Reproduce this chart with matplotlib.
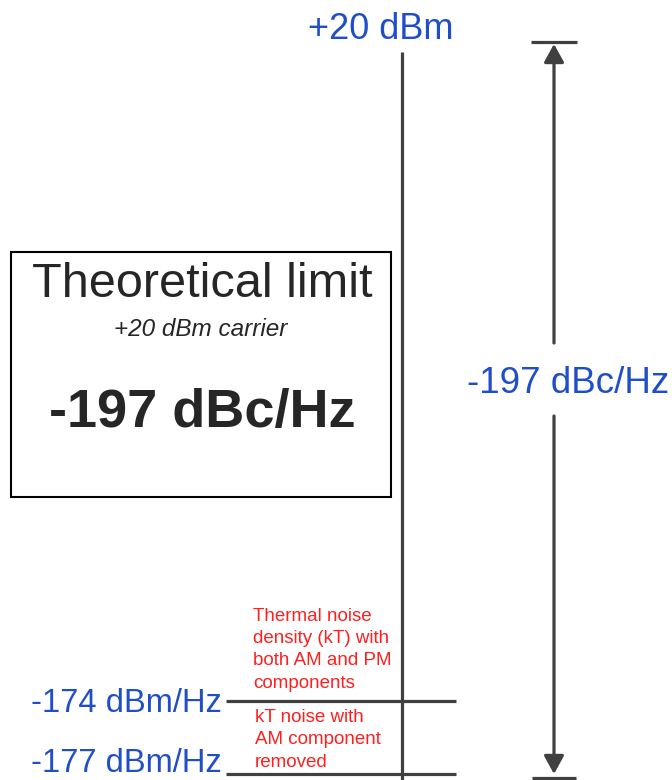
import matplotlib
matplotlib.use("Agg")
import matplotlib.pyplot as plt
from matplotlib.patches import Rectangle, FancyArrowPatch

# ---- data ----
level_labels = ["+20 dBm", "-174 dBm/Hz", "-177 dBm/Hz"]
level_values = [20, -174, -177]
span_label = "-197 dBc/Hz"
box_title = "Theoretical limit"
box_sub = "+20 dBm carrier"
box_value = "-197 dBc/Hz"
note_upper = ["Thermal noise", "density (kT) with", "both AM and PM", "components"]
note_lower = ["kT noise with", "AM component", "removed"]

# ---- style ----
BLUE = "#1f4ec8"
RED = "#ff1f1f"
GRAY = "#404040"
DARK = "#262626"
FONT = ["Liberation Sans", "DejaVu Sans"]

# schematic vertical layout (pixels) for each level
ypos = {20: 52, -174: 701, -177: 774}
label_anchor = {-174: (712, "baseline"), -177: (779, "bottom")}

fig = plt.figure(figsize=(6.72, 7.80), dpi=100)
ax = fig.add_axes([0, 0, 1, 1])
ax.set_xlim(0, 672)
ax.set_ylim(780, 0)
ax.axis("off")

# main vertical axis
ax.plot([402, 402], [ypos[20], 782], color=GRAY, lw=2.3, solid_capstyle="butt")

# level lines and labels
ax.text(381, 39, level_labels[0], color=BLUE, fontsize=26, family=FONT,
        ha="center", va="baseline")
for lab, val in zip(level_labels[1:], level_values[1:]):
    y = ypos[val]
    ax.plot([226, 456], [y, y], color=GRAY, lw=2.3, solid_capstyle="butt")
    ty, tva = label_anchor[val]
    ax.text(222, ty, lab, color=BLUE, fontsize=23.5, family=FONT,
            ha="right", va=tva)

# span arrow (+20 dBm down to -177)
xa = 554
ax.plot([531, 577], [42, 42], color=GRAY, lw=2.3, solid_capstyle="butt")
ax.plot([532, 576], [778, 778], color=GRAY, lw=2.3, solid_capstyle="butt")
ax.add_patch(FancyArrowPatch((xa, 343), (xa, 44), arrowstyle="-|>,head_length=1.0,head_width=0.55",
                             mutation_scale=11, color=GRAY, lw=2.3, shrinkA=0, shrinkB=0))
ax.add_patch(FancyArrowPatch((xa, 416), (xa, 774), arrowstyle="-|>,head_length=1.0,head_width=0.55",
                             mutation_scale=11, color=GRAY, lw=2.3, shrinkA=0, shrinkB=0))
ax.text(568, 393, span_label, color=BLUE, fontsize=26.5, family=FONT,
        ha="center", va="baseline")

# box
ax.add_patch(Rectangle((11, 252), 380, 245, fill=False, edgecolor="black", lw=1.5))
ax.text(202, 297, box_title, color=DARK, fontsize=35, family=FONT,
        ha="center", va="baseline")
ax.text(201, 336, box_sub, color=DARK, fontsize=17.5, family=FONT, style="italic",
        ha="center", va="baseline")
ax.text(202, 427, box_value, color=DARK, fontsize=39, family=FONT, weight="bold",
        ha="center", va="baseline")

# red notes
for i, line in enumerate(note_upper):
    ax.text(253, 621 + 22.2 * i, line, color=RED, fontsize=13.5, family=FONT,
            ha="left", va="baseline")
for i, line in enumerate(note_lower):
    ax.text(255, 722 + 22.5 * i, line, color=RED, fontsize=13.5, family=FONT,
            ha="left", va="baseline")

fig.savefig("out.png", dpi=100)
